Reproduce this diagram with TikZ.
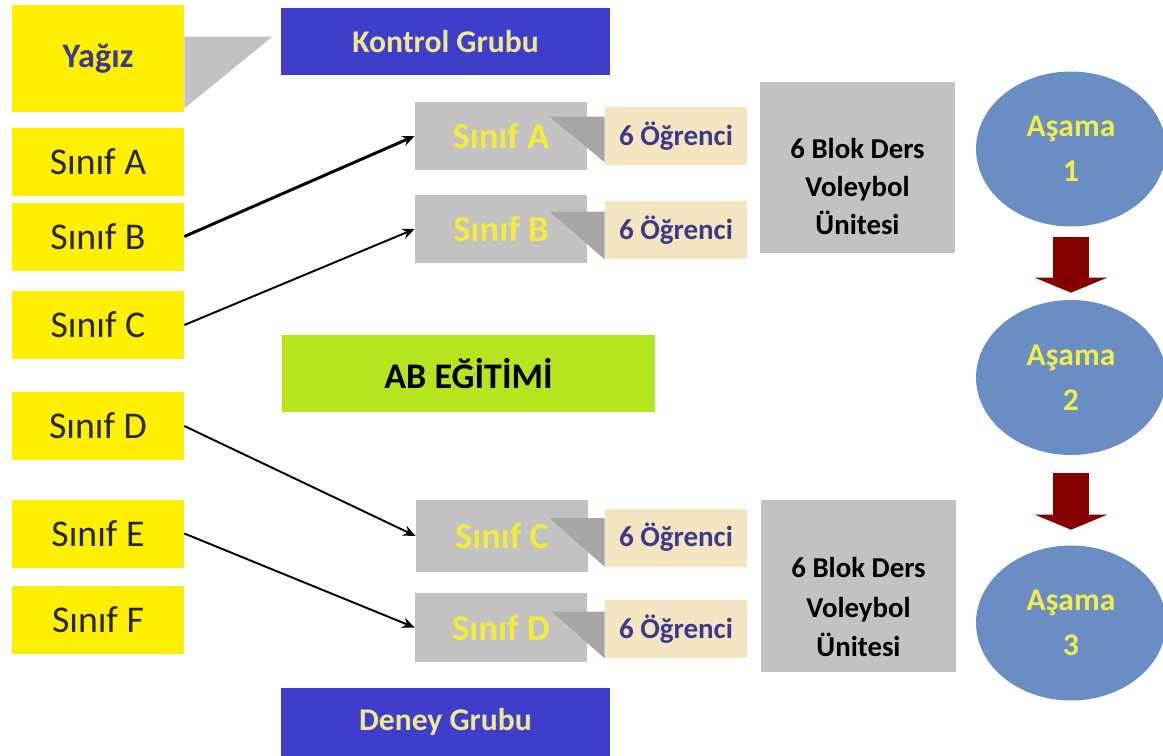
\documentclass[tikz,border=0pt]{standalone}
\usepackage{fontspec}
\setmainfont{Carlito}
\usetikzlibrary{calc,arrows.meta,shapes.geometric}
\definecolor{boxyellow}{RGB}{255,239,0}
\definecolor{inkblue}{RGB}{60,58,138}
\definecolor{grupblue}{RGB}{62,62,203}
\definecolor{grupyellow}{RGB}{239,231,143}
\definecolor{boxgray}{RGB}{194,194,194}
\definecolor{pointergray}{RGB}{166,166,166}
\definecolor{sinifyellow}{RGB}{244,234,58}
\definecolor{beige}{RGB}{243,229,191}
\definecolor{limegreen}{RGB}{180,229,31}
\definecolor{asamablue}{RGB}{106,142,195}
\definecolor{asamayellow}{RGB}{240,238,74}
\definecolor{arrowred}{RGB}{134,0,0}
\tikzset{
  sinif/.style={fill=boxyellow, minimum width=3.44cm, minimum height=1.36cm, text=black!85, font=\fontsize{21.5}{24}\selectfont},
  grup/.style={fill=grupblue, minimum width=6.58cm, minimum height=1.35cm, text=grupyellow, font=\bfseries\fontsize{18}{22}\selectfont},
  egitim/.style={fill=limegreen, minimum width=7.46cm, minimum height=1.54cm, font=\bfseries\fontsize{20.5}{24}\selectfont},
  kutu/.style={fill=boxgray, minimum width=3.44cm, minimum height=1.36cm, text=sinifyellow, font=\bfseries\fontsize{20.8}{24}\selectfont},
  ogrenci/.style={fill=beige, minimum width=2.84cm, minimum height=1.16cm, text=inkblue, font=\bfseries\fontsize{16.5}{20}\selectfont},
  blok/.style={fill=boxgray, minimum width=3.9cm, minimum height=3.42cm},
  bloktext/.style={align=center, font=\bfseries\fontsize{16.4}{21.5}\selectfont},
  asama/.style={ellipse, fill=asamablue, minimum width=3.8cm, minimum height=3.1cm, align=center, text=asamayellow, font=\bfseries\fontsize{18}{25.6}\selectfont},
  pointer/.style={fill=pointergray},
  link/.style={-{Stealth[length=7pt,width=6pt]}, line width=1.1pt},
  gecis/.style={draw=arrowred, line width=0.72cm, -{Triangle[length=0.3cm,width=1.44cm]}}
}
\begin{document}
\begin{tikzpicture}[x=0.02cm, y=-0.02cm]
  \useasboundingbox (0,0) rectangle (1163,755);
  % Left column
  \node[sinif, minimum height=2.14cm, text=inkblue, font=\bfseries\fontsize{19.5}{23}\selectfont] (yagiz) at (98,58.5) {Yağız};
  \node[sinif] (sA) at (98,162) {Sınıf A};
  \node[sinif] (sB) at (98,236.5) {Sınıf B};
  \node[sinif] (sC) at (98,325) {Sınıf C};
  \node[sinif] (sD) at (98,426) {Sınıf D};
  \node[sinif] (sE) at (98,533.5) {Sınıf E};
  \node[sinif] (sF) at (98,619.5) {Sınıf F};
  \fill[boxgray] ($(yagiz.north east)+(0,-0.64cm)$) -- ++(1.76cm,0) -- ($(yagiz.south east)+(0,0.08cm)$) -- cycle;

  % Groups
  \node[grup] (kontrol) at (445.5,41.5) {Kontrol Grubu};
  \node[egitim] (ab) at (468.5,373.5) {AB EĞİTİMİ};
  \node[grup] (deney) at (445.5,722) {Deney Grubu};

  % Control group classes
  \node[kutu] (kA) at (501,136) {Sınıf A};
  \node[kutu] (kB) at (501,229) {Sınıf B};
  \node[ogrenci] (oA) at (676,136) {6 Öğrenci};
  \node[ogrenci] (oB) at (676,230) {6 Öğrenci};
  \fill[pointer] ($(oA.north west)+(-1.1cm,-0.2cm)$) -- ($(oA.north west)+(0,-0.2cm)$) -- ($(oA.south west)+(0,0.06cm)$) -- cycle;
  \fill[pointer] ($(oB.north west)+(-1.1cm,-0.22cm)$) -- ($(oB.north west)+(0,-0.22cm)$) -- (oB.south west) -- cycle;
  \node[blok] (bK) at (857.5,167.5) {};
  \node[bloktext] at ($(bK)+(0,-0.38cm)$) {6 Blok Ders\\Voleybol\\Ünitesi};

  % Experimental group classes
  \node[kutu, minimum height=1.44cm] (dC) at (502,536) {Sınıf C};
  \node[kutu, minimum height=1.38cm] (dD) at (501,627.5) {Sınıf D};
  \node[ogrenci] (oC) at (676,537.5) {6 Öğrenci};
  \node[ogrenci] (oD) at (676,629) {6 Öğrenci};
  \fill[pointer] ($(oC.north west)+(-1.1cm,-0.2cm)$) -- ($(oC.north west)+(0,-0.2cm)$) -- (oC.south west) -- cycle;
  \fill[pointer] ($(oD.north west)+(-1.06cm,-0.24cm)$) -- ($(oD.north west)+(0,-0.24cm)$) -- (oD.south west) -- cycle;
  \node[blok, minimum height=3.44cm] (bD) at (858.5,586) {};
  \node[bloktext, font=\bfseries\fontsize{16.4}{22.5}\selectfont] at ($(bD)+(0,-0.42cm)$) {6 Blok Ders\\Voleybol\\Ünitesi};

  % Class assignments
  \draw[link, line width=1.7pt] (sB.east) -- (kA.west);
  \draw[link] (sC.east) -- (kB.west);
  \draw[link] (sD.east) -- (dC.west);
  \draw[link] (sE.east) -- (dD.west);

  % Stages
  \node[asama] (a1) at (1071,149) {Aşama\\1};
  \node[asama] (a2) at (1071,377.5) {Aşama\\2};
  \node[asama] (a3) at (1071,623) {Aşama\\3};
  \draw[gecis, shorten <=0.21cm, shorten >=0.14cm] (a1) -- (a2);
  \draw[gecis, shorten <=0.36cm, shorten >=0.31cm] (a2) -- (a3);
\end{tikzpicture}
\end{document}
